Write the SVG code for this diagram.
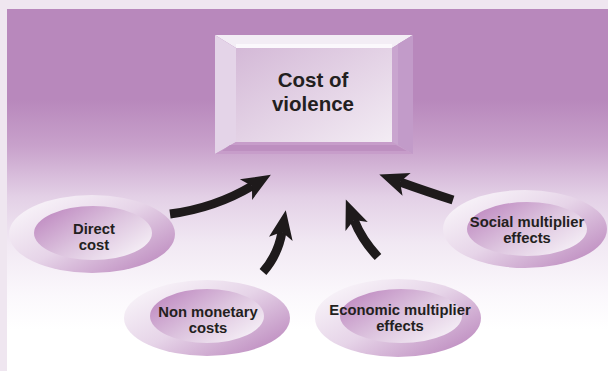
<svg xmlns="http://www.w3.org/2000/svg" width="608" height="371" viewBox="0 0 608 371">
<defs>
<linearGradient id="bg" gradientUnits="userSpaceOnUse" x1="0" y1="100" x2="0" y2="330">
<stop offset="0" stop-color="#b888bc"/>
<stop offset="0.2" stop-color="#c8a1cb"/>
<stop offset="0.42" stop-color="#e3d0e6"/>
<stop offset="0.62" stop-color="#f1e8f3"/>
<stop offset="0.85" stop-color="#fbf8fc"/>
<stop offset="1" stop-color="#ffffff"/>
</linearGradient>
<linearGradient id="face" x1="0" y1="0" x2="1" y2="1">
<stop offset="0" stop-color="#d4b9d7"/>
<stop offset="1" stop-color="#f3ecf4"/>
</linearGradient>
<linearGradient id="ring" x1="0.1" y1="0.2" x2="0.9" y2="0.9">
<stop offset="0" stop-color="#f6f0f7"/>
<stop offset="0.45" stop-color="#e6d4e8"/>
<stop offset="1" stop-color="#bf8ec1"/>
</linearGradient>
<linearGradient id="core" x1="0.1" y1="0.2" x2="0.9" y2="0.8">
<stop offset="0" stop-color="#c392c5"/>
<stop offset="0.5" stop-color="#dcc3de"/>
<stop offset="1" stop-color="#f3ebf4"/>
</linearGradient>
<marker id="head" markerUnits="userSpaceOnUse" markerWidth="40" markerHeight="40" refX="4" refY="0" viewBox="-30 -15 40 30" orient="auto" overflow="visible">
<path d="M26,0 L-3,-12 L4,0 L-3,12 Z" fill="#1e1a1b"/>
</marker>
<style>
.lbl{font-family:"Liberation Sans",Arial,sans-serif;font-weight:bold;fill:#231f20;text-anchor:middle}
.big{font-size:20.5px}
.sm{font-size:14.8px}
.arr{fill:none;stroke:#1e1a1b;stroke-width:9;stroke-linecap:butt;marker-end:url(#head)}
</style>
</defs>
<rect x="0" y="0" width="608" height="371" fill="#efe6f0"/>
<rect x="7" y="9" width="601" height="362" fill="url(#bg)"/>

<g id="cost-of-violence">
<polygon points="215,35 413,35 392,48 236,48" fill="#f3edf5"/>
<rect x="236" y="44" width="156" height="4" fill="#fbf8fc"/>
<polygon points="215,35 236,48 236,142 215,154" fill="#e4d4e8"/>
<polygon points="413,35 392,48 392,142 413,154" fill="#c9a5cf"/>
<polygon points="398,44 413,35 413,154 398,145" fill="#c29bc9"/>
<polygon points="215,154 236,142 392,142 413,154" fill="#c79dca"/>
<polygon points="230,145 396,145 407,151 222,151" fill="#bd8fc0"/>
<rect x="236" y="48" width="156" height="94" fill="url(#face)"/>
<text class="lbl big" x="313" y="87">Cost of</text>
<text class="lbl big" x="313" y="111">violence</text>
</g>

<g id="direct-cost">
<ellipse cx="92" cy="234" rx="83" ry="39" fill="url(#ring)"/>
<ellipse cx="93" cy="233" rx="59" ry="27" fill="url(#core)"/>
<text class="lbl sm" x="94" y="234">Direct</text>
<text class="lbl sm" x="94" y="250">cost</text>
</g>

<g id="non-monetary-costs">
<ellipse cx="207" cy="318" rx="83" ry="38" fill="url(#ring)"/>
<ellipse cx="207" cy="316" rx="57" ry="27" fill="url(#core)"/>
<text class="lbl sm" x="208" y="317">Non monetary</text>
<text class="lbl sm" x="208" y="333">costs</text>
</g>

<g id="economic-multiplier-effects">
<ellipse cx="398" cy="318" rx="83" ry="39" fill="url(#ring)"/>
<ellipse cx="401" cy="316" rx="61" ry="27" fill="url(#core)"/>
<text class="lbl sm" x="400" y="315">Economic multiplier</text>
<text class="lbl sm" x="400" y="331">effects</text>
</g>

<g id="social-multiplier-effects">
<ellipse cx="525" cy="229" rx="82" ry="39" fill="url(#ring)"/>
<ellipse cx="527" cy="229" rx="60" ry="27" fill="url(#core)"/>
<text class="lbl sm" x="527" y="227">Social multiplier</text>
<text class="lbl sm" x="527" y="243">effects</text>
</g>

<g id="connectors">
<path class="arr" d="M170,214 Q215,208 252,186"/>
<path class="arr" d="M263,272 Q278,255 282,232"/>
<path class="arr" d="M378,257 Q362,240 354,220"/>
<path class="arr" d="M453,200 Q428,192 400,182"/>
</g>
</svg>
